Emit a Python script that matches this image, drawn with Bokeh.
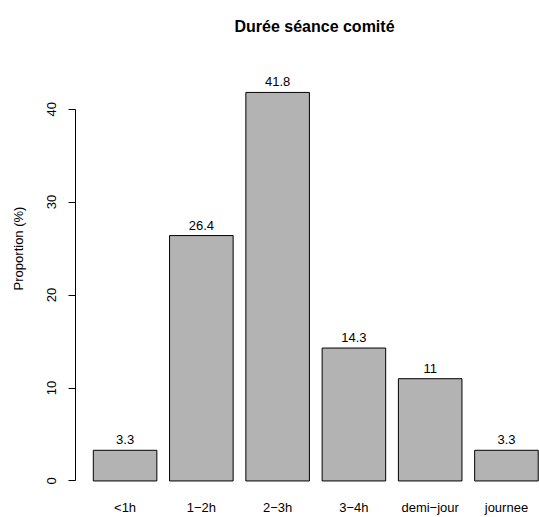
from bokeh.plotting import figure
from bokeh.models import ColumnDataSource, FixedTicker, Range1d
from bokeh.embed import file_html
from bokeh.resources import INLINE
from bokeh.core.properties import value

title_text = "Durée séance comité"
categories = ["<1h", "1\u22122h", "2\u22123h", "3\u22124h", "demi\u2212jour", "journee"]
proportions = [3.3, 26.4, 41.8, 14.3, 11, 3.3]
value_labels = ["3.3", "26.4", "41.8", "14.3", "11", "3.3"]
y_ticks = [0, 10, 20, 30, 40]

# R barplot positions: width 1, space 0.2
centers = [0.7 + 1.2 * i for i in range(len(categories))]

src = ColumnDataSource(dict(x=centers, top=proportions, lab=value_labels, cat=categories))

FONT = "Liberation Sans"

W, H = 539, 517
LEFT, BOTTOM = 75, 17
X0, X1 = -0.08, 7.22
Y0, Y1 = -1.672, 43.472          # R's plot region (4% padding)
R_TOP = 77                        # top of R's plot region in pixels
PX = (H - R_TOP - BOTTOM) / (Y1 - Y0)   # pixels per y unit
Y_TOP = Y1 + R_TOP / PX           # frame extended up to the top of the figure
PXX = (W - LEFT) / (X1 - X0)

p = figure(width=W, height=H, output_backend="svg", toolbar_location=None,
           x_range=Range1d(X0, X1), y_range=Range1d(Y0, Y_TOP),
           min_border_left=LEFT, min_border_right=0, min_border_top=0,
           min_border_bottom=BOTTOM)
p.title.visible = False
p.outline_line_color = None
p.xgrid.visible = False
p.ygrid.visible = False
p.background_fill_color = "white"
p.border_fill_color = "white"

# title, centred as in R, baseline 51 px above the plot region
p.text(x=[X0 + (314 - LEFT) / PXX], y=[Y1 + 51 / PX], text=[title_text],
       text_align="center", text_baseline="alphabetic", text_font=value(FONT),
       text_font_size="16px", text_font_style="bold", text_color="black")

p.vbar(x="x", top="top", bottom=0, width=1.0, source=src,
       fill_color="#B3B3B3", line_color="black", line_width=1)

p.text(x="x", y="top", text="lab", source=src, text_align="center",
       text_baseline="bottom", y_offset=-6, text_font=value(FONT),
       text_font_size="13px", text_color="black")

# x axis: category names without line/ticks
xa = p.below[0]
xa.ticker = FixedTicker(ticks=centers)
xa.major_label_overrides = {c: n for c, n in zip(centers, categories)}
xa.axis_line_color = None
xa.major_tick_line_color = None
xa.minor_tick_line_color = None
xa.major_tick_out = 0
xa.major_label_standoff = 3
xa.major_label_text_font = FONT
xa.major_label_text_font_size = "13px"
xa.major_label_text_color = "black"

ya = p.yaxis[0]
ya.ticker = FixedTicker(ticks=y_ticks)
ya.bounds = (0, 40)
ya.axis_line_color = "black"
ya.major_tick_line_color = "black"
ya.minor_tick_line_color = None
ya.major_tick_out = 7
ya.major_tick_in = 0
ya.major_label_orientation = "vertical"
ya.major_label_standoff = 12
ya.major_label_text_font = FONT
ya.major_label_text_font_size = "13px"
ya.major_label_text_color = "black"
ya.axis_label = "Proportion (%)"
ya.axis_label_text_font = FONT
ya.axis_label_text_font_size = "13px"
ya.axis_label_text_font_style = "normal"
ya.axis_label_text_color = "black"
ya.axis_label_standoff = 19

open("out.html", "w").write(file_html(p, INLINE))
